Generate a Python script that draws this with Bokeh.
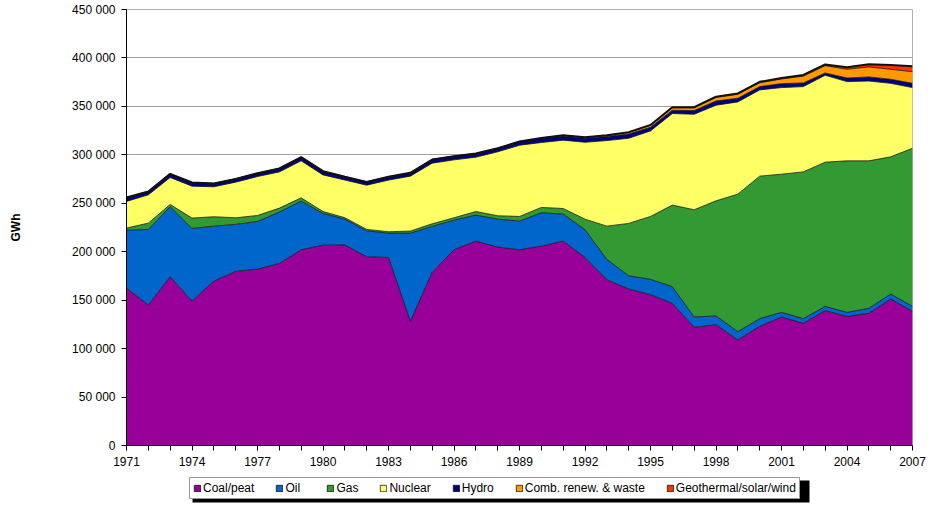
from bokeh.plotting import figure
from bokeh.layouts import column
from bokeh.models import ColumnDataSource, Legend, LegendItem, FixedTicker
from bokeh.embed import file_html
from bokeh.resources import INLINE

years = [1971, 1972, 1973, 1974, 1975, 1976, 1977, 1978, 1979, 1980,
         1981, 1982, 1983, 1984, 1985, 1986, 1987, 1988, 1989, 1990,
         1991, 1992, 1993, 1994, 1995, 1996, 1997, 1998, 1999, 2000,
         2001, 2002, 2003, 2004, 2005, 2006, 2007]

coal = [162500, 145000, 174200, 149100, 169700, 179700, 182100, 187900, 202000, 206800,
        207000, 194800, 194100, 128200, 178700, 202000, 211000, 204800, 202000, 205800,
        211000, 194100, 171100, 161500, 155700, 146700, 122000, 124700, 108900, 123000,
        132600, 126100, 139200, 133300, 136400, 151200, 138500]
oil = [59800, 78000, 72200, 74900, 56700, 48500, 49100, 53000, 50200, 32700,
       26700, 26800, 25100, 91000, 47400, 30600, 26800, 28800, 29600, 34400,
       27800, 28600, 21000, 13700, 15800, 17200, 10600, 9000, 8600, 7900,
       4800, 4800, 4400, 4100, 5200, 5100, 5100]
gas = [2100, 6500, 2400, 10700, 9700, 6800, 6200, 4100, 3400, 2000,
       1400, 1400, 1400, 2100, 2700, 2400, 3700, 3500, 4800, 5500,
       5800, 10900, 34300, 54000, 64900, 84200, 110700, 118800, 141900, 147100,
       142600, 151500, 148800, 156400, 152200, 141600, 163200]
nuclear = [27500, 29200, 27800, 33000, 30900, 36800, 40200, 37400, 38200, 37800,
           38900, 45700, 53300, 56700, 62600, 59800, 56100, 66000, 73500, 67000,
           70500, 79400, 88300, 87900, 88300, 94500, 98600, 98700, 95200, 89000,
           89400, 88000, 89700, 81800, 82400, 75900, 62600]
hydro = [4000, 3500, 3800, 3700, 3400, 3400, 3400, 3500, 3800, 3800,
         3400, 3400, 3400, 3400, 3800, 3800, 3700, 3700, 3800, 4100,
         4400, 4100, 4200, 4500, 3800, 3400, 3800, 4400, 3800, 3400,
         4100, 3800, 2400, 3700, 4200, 4200, 4400]
comb = [0, 0, 0, 0, 0, 0, 0, 0, 0, 0,
        0, 0, 0, 0, 0, 0, 0, 0, 0, 600,
        700, 900, 1100, 1500, 2000, 2600, 2800, 3600, 4100, 4000,
        4800, 7000, 7500, 9000, 10300, 10300, 12000]
geo = [0, 0, 0, 0, 0, 0, 0, 0, 0, 0,
       0, 0, 0, 0, 0, 0, 0, 0, 0, 10,
       10, 30, 220, 340, 390, 490, 670, 880, 850, 950,
       970, 1260, 1290, 2100, 2800, 4300, 5600]

series_keys = ["coal", "oil", "gas", "nuclear", "hydro", "comb", "geo"]
series_labels = ["Coal/peat", "Oil", "Gas", "Nuclear", "Hydro",
                 "Comb. renew. & waste", "Geothermal/solar/wind"]
series_colors = ["#990099", "#0066CC", "#339933", "#FFFF66", "#000080",
                 "#FF9900", "#FF3300"]

y_ticks = [0, 50000, 100000, 150000, 200000, 250000, 300000, 350000, 400000, 450000]
y_tick_labels = ["0", "50 000", "100 000", "150 000", "200 000", "250 000",
                 "300 000", "350 000", "400 000", "450 000"]
x_label_years = [1971, 1974, 1977, 1980, 1983, 1986, 1989, 1992, 1995, 1998,
                 2001, 2004, 2007]

src = ColumnDataSource(dict(year=years, coal=coal, oil=oil, gas=gas, nuclear=nuclear,
                            hydro=hydro, comb=comb, geo=geo))

FONT = "Liberation Sans"

p = figure(width=949, height=474, output_backend="svg", toolbar_location=None,
           x_range=(1971, 2007), y_range=(0, 450000),
           min_border_left=126, min_border_right=37, min_border_top=9,
           min_border_bottom=29, background_fill_color="white",
           border_fill_color="white", outline_line_color="#b0b0b0")

p.varea_stack(stackers=series_keys, x="year", color=series_colors, source=src)
p.vline_stack(stackers=series_keys, x="year", color="#111111",
              line_width=[0.8, 0.8, 0.8, 0.8, 0.8, 0.8, 2.0], source=src)

# axes
p.xaxis.ticker = FixedTicker(ticks=years)
p.xaxis.major_label_overrides = {y: (str(y) if y in x_label_years else "") for y in years}
p.yaxis.ticker = FixedTicker(ticks=y_ticks)
p.yaxis.major_label_overrides = dict(zip(y_ticks, y_tick_labels))
for ax in (p.xaxis[0], p.yaxis[0]):
    ax.axis_line_color = "black"
    ax.axis_line_width = 1
    ax.major_tick_line_color = "black"
    ax.major_tick_in = 0
    ax.major_tick_out = 5
    ax.minor_tick_line_color = None
    ax.major_label_text_font = FONT
    ax.major_label_text_font_size = "12px"
    ax.major_label_text_color = "black"
    ax.major_label_standoff = 6

p.yaxis.axis_label = "GWh"
p.yaxis.axis_label_text_font = FONT
p.yaxis.axis_label_text_font_size = "12px"
p.yaxis.axis_label_text_font_style = "bold"
p.yaxis.axis_label_text_color = "black"
p.yaxis.axis_label_standoff = 46

p.xgrid.grid_line_color = None
p.ygrid.ticker = FixedTicker(ticks=y_ticks)
p.ygrid.grid_line_color = "#a0a0a0"
p.ygrid.grid_line_width = 1

# legend strip (separate small figure below the chart; its frame is aligned
# with the chart frame, so its ranges are expressed in page pixels)
lg = figure(width=949, height=33, output_backend="svg", toolbar_location=None,
            x_axis_location=None, y_axis_location=None, min_border=0,
            outline_line_color=None, x_range=(126, 912), y_range=(507, 474),
            background_fill_color="white", border_fill_color="white")
lg.grid.visible = False

# drop shadow behind the legend box
lg.quad(left=[192], right=[809], top=[480], bottom=[502],
        fill_color="black", line_color=None)

items = []
for lab, col in zip(series_labels, series_colors):
    r = lg.quad(left=[0], right=[1], top=[0], bottom=[1], fill_color=col,
                line_color="black", line_width=0.7)
    items.append(LegendItem(label=lab, renderers=[r]))

legend = Legend(items=items, orientation="horizontal", location=(63, 8),
                glyph_width=8, glyph_height=8, label_standoff=2, spacing=21,
                padding=3, margin=0, label_height=12,
                label_text_font=FONT, label_text_font_size="12px",
                label_text_color="black",
                border_line_color="#333333", border_line_width=1,
                background_fill_color="white", background_fill_alpha=1)
lg.add_layout(legend, "center")

layout = column(p, lg, spacing=0)
open("out.html", "w").write(file_html(layout, INLINE))
